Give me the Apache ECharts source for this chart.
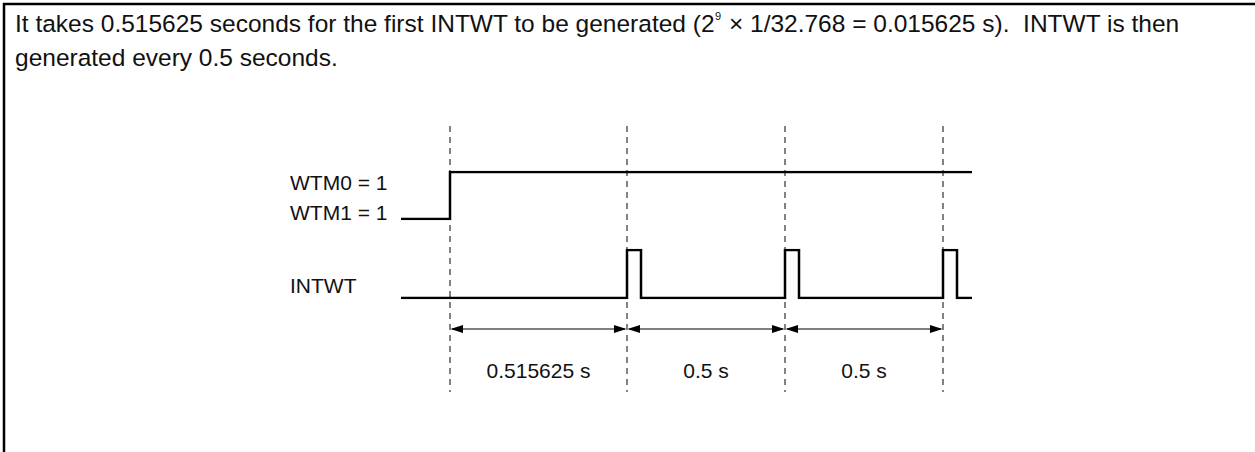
<!DOCTYPE html>
<html>
<head>
<meta charset="utf-8">
<script src="https://cdn.jsdelivr.net/npm/echarts@6/dist/echarts.min.js"></script>
<style>
html,body{margin:0;padding:0;background:#fff;}
#chart{width:1255px;height:452px;}
</style>
</head>
<body>
<div id="chart"></div>
<script>
// Timing diagram data (positions along the not-to-scale diagram time axis)
const markerTimes = [450, 627, 785, 943];
const wtmTimes = [401, 450, 972];
const wtmLevels = [0, 1, 1];
const intwtTimes = [401, 627, 641, 785, 799, 943, 957, 972];
const intwtLevels = [0, 1, 0, 1, 0, 1, 0, 0];
const intervalLabels = ['0.515625 s', '0.5 s', '0.5 s'];
const signalNames = ['WTM0 = 1', 'WTM1 = 1', 'INTWT'];
const noteLine1a = 'It takes 0.515625 seconds for the first INTWT to be generated (2';
const noteSup = '9';
const noteLine1b = ' \u00d7 1/32.768 = 0.015625 s).  INTWT is then';
const noteLine2 = 'generated every 0.5 seconds.';

const FONT = '"Liberation Sans", Arial, Helvetica, sans-serif';
const PARA_SIZE = 24.5;
const LABEL_SIZE = 21;

const wtmData = wtmTimes.map((t, i) => [t, wtmLevels[i]]);
const intwtData = intwtTimes.map((t, i) => [t, intwtLevels[i]]);
const intervals = [];
for (let i = 0; i < markerTimes.length - 1; i++) intervals.push([markerTimes[i], markerTimes[i + 1]]);

const chart = echarts.init(document.getElementById('chart'), null, {renderer: 'svg'});

const xAx = (gi) => ({gridIndex: gi, type: 'value', min: 0, max: 1255, show: false});
const yAx = (gi) => ({gridIndex: gi, type: 'value', min: 0, max: 1, show: false});

chart.setOption({
  animation: false,
  backgroundColor: '#fff',
  grid: [
    {left: 0, right: 0, top: 172, height: 47},   // WTM row
    {left: 0, right: 0, top: 250, height: 48},   // INTWT row
    {left: 0, right: 0, top: 126, height: 266},  // guide lines
    {left: 0, right: 0, top: 329, height: 41}    // dimension row
  ],
  xAxis: [xAx(0), xAx(1), xAx(2), xAx(3)],
  yAxis: [yAx(0), yAx(1), yAx(2), yAx(3)],
  series: [
    {
      type: 'custom', xAxisIndex: 2, yAxisIndex: 2, z: 1, silent: true,
      data: markerTimes,
      renderItem: function (params, api) {
        const top = api.coord([api.value(0), 1]);
        const bot = api.coord([api.value(0), 0]);
        return {type: 'line', shape: {x1: top[0], y1: top[1], x2: bot[0], y2: bot[1]},
          style: {stroke: '#5a5a5a', lineWidth: 1.5, lineDash: [6, 5]}};
      }
    },
    {
      type: 'line', xAxisIndex: 0, yAxisIndex: 0, z: 3, step: 'end', symbol: 'none', silent: true,
      data: wtmData,
      lineStyle: {color: '#000', width: 2.5, join: 'miter', cap: 'butt'}
    },
    {
      type: 'line', xAxisIndex: 1, yAxisIndex: 1, z: 3, step: 'end', symbol: 'none', silent: true,
      data: intwtData,
      lineStyle: {color: '#000', width: 2.5, join: 'miter', cap: 'butt'}
    },
    {
      type: 'custom', xAxisIndex: 3, yAxisIndex: 3, z: 4, silent: true,
      data: intervals,
      renderItem: function (params, api) {
        const a = api.coord([api.value(0), 1]);
        const b = api.coord([api.value(1), 1]);
        const m = api.coord([(api.value(0) + api.value(1)) / 2, 0]);
        const y = a[1], ah = 13, aw = 4;
        return {type: 'group', children: [
          {type: 'line', shape: {x1: a[0] + 2, y1: y, x2: b[0] - 2, y2: y}, style: {stroke: '#000', lineWidth: 1.2}},
          {type: 'polygon', shape: {points: [[a[0] + 0.5, y], [a[0] + ah, y - aw], [a[0] + ah, y + aw]]}, style: {fill: '#000'}},
          {type: 'polygon', shape: {points: [[b[0] - 0.5, y], [b[0] - ah, y - aw], [b[0] - ah, y + aw]]}, style: {fill: '#000'}},
          {type: 'text', style: {text: intervalLabels[params.dataIndex], x: m[0], y: m[1],
            align: 'center', verticalAlign: 'middle', fontSize: LABEL_SIZE, fontFamily: FONT, fill: '#111'}}
        ]};
      }
    }
  ],
  graphic: [
    {type: 'line', shape: {x1: 3, y1: 4, x2: 1255, y2: 4}, style: {stroke: '#000', lineWidth: 2.5}},
    {type: 'line', shape: {x1: 4, y1: 3, x2: 4, y2: 452}, style: {stroke: '#000', lineWidth: 2.5}},
    {type: 'text', x: 15, y: 23, style: {
      text: '{a|' + noteLine1a + '}{s|' + noteSup + '}{a|' + noteLine1b + '}',
      verticalAlign: 'middle', fill: '#111',
      rich: {
        a: {fontSize: PARA_SIZE, fontFamily: FONT, lineHeight: 28, fill: '#111'},
        s: {fontSize: 11, fontFamily: FONT, lineHeight: 28, verticalAlign: 'top', padding: [1, 1, 0, 0], fill: '#111'}
      }
    }},
    {type: 'text', x: 15, y: 57, style: {text: noteLine2, verticalAlign: 'middle',
      fontSize: PARA_SIZE, fontFamily: FONT, fill: '#111'}},
    {type: 'text', x: 290, y: 182, style: {text: signalNames[0], verticalAlign: 'middle',
      fontSize: LABEL_SIZE, fontFamily: FONT, fill: '#111'}},
    {type: 'text', x: 290, y: 212, style: {text: signalNames[1], verticalAlign: 'middle',
      fontSize: LABEL_SIZE, fontFamily: FONT, fill: '#111'}},
    {type: 'text', x: 290, y: 285, style: {text: signalNames[2], verticalAlign: 'middle',
      fontSize: LABEL_SIZE, fontFamily: FONT, fill: '#111'}}
  ]
});
</script>
</body>
</html>
